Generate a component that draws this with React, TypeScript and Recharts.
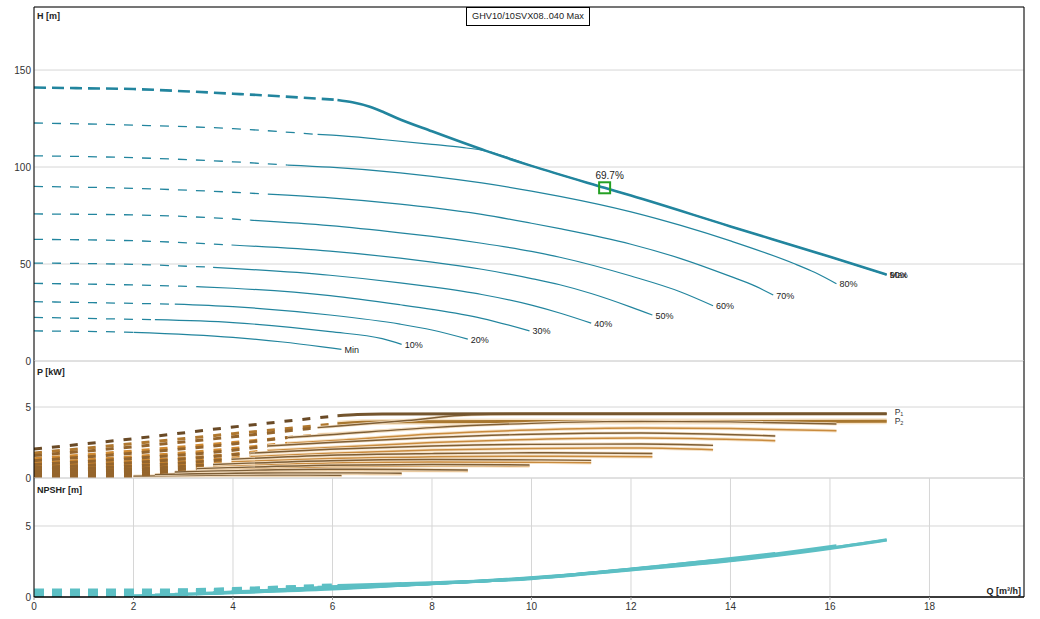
import React from 'react';
import { LineChart, Line, XAxis, YAxis, CartesianGrid, ReferenceLine, ReferenceDot } from 'recharts';

type Pt = [number, number];

const FONT = '"Liberation Sans", Arial, sans-serif';

// ---------- labels / ticks ----------
const chartTitle = 'GHV10/10SVX08..040 Max';
const curveLabels = ['Max', '90%', '80%', '70%', '60%', '50%', '40%', '30%', '20%', '10%', 'Min'];
const xTicks = [0, 2, 4, 6, 8, 10, 12, 14, 16, 18];
const hTicks = [0, 50, 100, 150];
const pTicks = [0, 5];
const nTicks = [0, 5];
const qMax = 19.9;
const hMax = 182.5;
const pMax = 8.24;
const nMax = 8.38;

const markerQ = 11.47;
const markerH = 89.3;
const markerLabel = '69.7%';

// ---------- head H [m] ----------
const headDashed: Pt[][] = [
  [[0, 141], [1, 140.6], [2, 140.2], [3, 139.1], [4, 137.8], [5, 136.4], [6.1, 134.6]],
  [[0, 122.7], [2, 121.6], [4, 119.8], [5.7, 116.8]],
  [[0, 105.8], [2, 104.8], [4, 102.7], [5.1, 101.0]],
  [[0, 90.0], [2, 89.0], [4, 87.0], [4.7, 86.0]],
  [[0, 75.8], [2, 75.3], [4, 73.2], [4.35, 72.6]],
  [[0, 62.7], [2, 62.0], [3.97, 59.8]],
  [[0, 50.5], [2, 49.8], [3.6, 48.3]],
  [[0, 40.0], [2, 39.2], [3.27, 38.3]],
  [[0, 30.6], [2, 29.7], [2.83, 29.3]],
  [[0, 22.5], [2, 21.5], [2.43, 21.3]],
  [[0, 15.5], [1, 15.3], [2.0, 14.8]],
];

const headSolid: Pt[][] = [
  [[6.1, 134.6], [6.4, 133.4], [6.75, 131.1], [7.0, 128.6], [7.29, 125.3], [8, 118.4], [9.1, 108.2], [10, 100.6], [11.47, 89.3], [12, 85.3], [14, 69.4], [16, 53.7], [17.14, 44.5]],
  [[5.7, 116.8], [6, 116.4], [7, 114.2], [8, 111.7], [8.6, 110.1], [9.1, 108.2], [10, 100.6], [11.47, 89.3], [12, 85.3], [14, 69.4], [16, 53.7], [17.14, 44.5]],
  [[5.1, 101.0], [5.95, 99.9], [7.36, 97.0], [8, 95.2], [9, 91.8], [10, 87.6], [10.57, 84.9], [12, 76.9], [13, 69.9], [14, 61.9], [15.26, 50.4], [15.7, 45.6], [16.13, 39.8]],
  [[4.7, 86.0], [5.95, 84.1], [7.36, 80.9], [8, 79.1], [9, 75.6], [10, 71.0], [10.57, 68.2], [12, 60.2], [13, 52.8], [14, 43.6], [14.5, 38.6], [14.86, 34.0]],
  [[4.35, 72.6], [5.95, 69.8], [7.36, 66.1], [8, 64.2], [9, 60.7], [10, 56.5], [10.57, 53.5], [12, 43.8], [13, 35.6], [13.65, 28.5]],
  [[3.97, 59.8], [5.95, 56.6], [7.36, 53.0], [8, 51.0], [9, 47.3], [10, 42.5], [10.57, 39.3], [11.2, 34.8], [12, 27.8], [12.43, 23.7]],
  [[3.6, 48.3], [5.95, 44.2], [7.36, 40.3], [8, 38.2], [9, 34.3], [10, 28.8], [10.6, 24.5], [11.2, 19.5]],
  [[3.27, 38.3], [4, 37.5], [5.95, 33.7], [7.36, 29.0], [8, 26.6], [9, 22.0], [9.96, 15.5]],
  [[2.83, 29.3], [4, 28.0], [5.95, 23.7], [7.36, 19.0], [8, 16.0], [8.72, 11.3]],
  [[2.43, 21.3], [4, 19.8], [5.95, 15.1], [7, 11.5], [7.39, 8.6]],
  [[2.0, 14.8], [4, 12.2], [5, 9.8], [6, 6.6], [6.18, 6.0]],
];

// ---------- power P1 / P2 [kW] ----------
const p1Dashed: Pt[][] = [
  [[0, 2.04], [2, 2.77], [4, 3.59], [6.1, 4.39]],
  [[0, 1.58], [2, 2.2], [4, 2.9], [5.7, 3.55]],
  [[0, 1.22], [2, 1.75], [4, 2.4], [5.1, 2.85]],
  [[0, 0.95], [2, 1.38], [4, 1.95], [4.7, 2.25]],
  [[0, 0.74], [2, 1.08], [4.35, 1.75]],
  [[0, 0.56], [2, 0.84], [3.97, 1.32]],
  [[0, 0.42], [2, 0.63], [3.6, 0.95]],
  [[0, 0.30], [2, 0.46], [3.27, 0.66]],
  [[0, 0.20], [1.5, 0.30], [2.83, 0.42]],
  [[0, 0.12], [1.2, 0.18], [2.43, 0.24]],
  [[0, 0.07], [1, 0.10], [2.0, 0.13]],
];
const p1Solid: Pt[][] = [
  [[6.1, 4.39], [6.5, 4.47], [7, 4.5], [10, 4.52], [17.14, 4.53]],
  [[5.7, 3.55], [6, 3.63], [7.5, 4.05], [8.8, 4.45], [10, 4.52], [17.14, 4.53]],
  [[5.1, 2.85], [5.95, 3.05], [8, 3.55], [10, 3.85], [12.2, 3.99], [14, 3.95], [16.13, 3.80]],
  [[4.7, 2.25], [5.95, 2.50], [8, 2.85], [10, 3.08], [12.2, 3.17], [14.9, 2.96]],
  [[4.35, 1.75], [5.95, 2.02], [8, 2.25], [10, 2.37], [12.2, 2.39], [13.65, 2.30]],
  [[3.97, 1.32], [5.95, 1.60], [8, 1.72], [10, 1.78], [12.43, 1.73]],
  [[3.6, 0.95], [5.95, 1.22], [8, 1.30], [10, 1.28], [11.2, 1.24]],
  [[3.27, 0.66], [5.95, 0.90], [8, 0.95], [9.96, 0.92]],
  [[2.83, 0.42], [5.95, 0.62], [7.5, 0.60], [8.72, 0.56]],
  [[2.43, 0.24], [5, 0.36], [6.5, 0.36], [7.39, 0.33]],
  [[2.0, 0.13], [4, 0.20], [5.5, 0.21], [6.18, 0.19]],
];
const p2Dashed: Pt[][] = [
  [[0, 1.76], [2, 2.42], [4, 3.12], [6.1, 3.82]],
  [[0, 1.36], [2, 1.9], [4, 2.5], [5.7, 3.04]],
  [[0, 1.05], [2, 1.5], [4, 2.07], [5.1, 2.45]],
  [[0, 0.82], [2, 1.19], [4, 1.68], [4.7, 1.94]],
  [[0, 0.64], [2, 0.93], [4.35, 1.51]],
  [[0, 0.48], [2, 0.72], [3.97, 1.14]],
  [[0, 0.36], [2, 0.54], [3.6, 0.82]],
  [[0, 0.26], [2, 0.40], [3.27, 0.58]],
  [[0, 0.17], [1.5, 0.26], [2.83, 0.37]],
  [[0, 0.10], [1.2, 0.15], [2.43, 0.21]],
  [[0, 0.06], [1, 0.085], [2.0, 0.11]],
];
const p2Solid: Pt[][] = [
  [[6.1, 3.82], [6.6, 3.92], [7.5, 3.96], [10, 3.98], [17.14, 3.99]],
  [[5.7, 3.04], [6, 3.10], [8, 3.55], [9.5, 3.9], [10.5, 3.98], [17.14, 3.99]],
  [[5.1, 2.45], [5.95, 2.62], [8, 3.1], [10, 3.38], [12.2, 3.52], [14, 3.48], [16.13, 3.33]],
  [[4.7, 1.94], [5.95, 2.15], [8, 2.5], [10, 2.72], [12.2, 2.82], [14.9, 2.63]],
  [[4.35, 1.51], [5.95, 1.74], [8, 1.97], [10, 2.08], [12.2, 2.11], [13.65, 1.99]],
  [[3.97, 1.14], [5.95, 1.38], [8, 1.49], [10, 1.54], [12.43, 1.50]],
  [[3.6, 0.82], [5.95, 1.05], [8, 1.12], [10, 1.11], [11.2, 1.08]],
  [[3.27, 0.58], [5.95, 0.80], [8, 0.86], [9.96, 0.85]],
  [[2.83, 0.37], [5.95, 0.55], [7.5, 0.53], [8.72, 0.50]],
  [[2.43, 0.21], [5, 0.31], [6.5, 0.31], [7.39, 0.29]],
  [[2.0, 0.11], [4, 0.17], [5.5, 0.18], [6.18, 0.16]],
];

// ---------- NPSHr [m] ----------
const npshDashed: Pt[][] = [
  [[0, 0.42], [2, 0.42], [3, 0.44], [4, 0.52], [5, 0.64], [6.1, 0.80]],
  [[0, 0.38], [2, 0.38], [4, 0.48], [5.7, 0.70]],
  [[0, 0.35], [2, 0.35], [4, 0.45], [5.1, 0.58]],
  [[0, 0.32], [2, 0.32], [4, 0.42], [4.7, 0.50]],
  [[0, 0.28], [2, 0.29], [4.35, 0.44]],
  [[0, 0.25], [2, 0.26], [3.97, 0.38]],
  [[0, 0.22], [2, 0.23], [3.6, 0.32]],
  [[0, 0.19], [2, 0.20], [3.27, 0.26]],
  [[0, 0.16], [2, 0.17], [2.83, 0.20]],
  [[0, 0.13], [2.43, 0.15]],
  [[0, 0.10], [2.0, 0.11]],
];
const npshSolid: Pt[][] = [
  [[6.1, 0.80], [8, 1.0], [10, 1.30], [12, 1.91], [14, 2.56], [16, 3.42], [17.14, 4.02]],
  [[5.7, 0.70], [8, 0.98], [10, 1.31], [12, 1.93], [14, 2.58], [16, 3.45], [17.14, 4.02]],
  [[5.1, 0.58], [8, 0.96], [10, 1.31], [12, 1.95], [14, 2.65], [16.13, 3.62]],
  [[4.7, 0.50], [8, 0.94], [10, 1.32], [12, 1.97], [14.9, 3.08]],
  [[4.35, 0.44], [8, 0.93], [10, 1.33], [12, 1.99], [13.65, 2.58]],
  [[3.97, 0.38], [6, 0.62], [8, 0.93], [10, 1.35], [12.43, 2.11]],
  [[3.6, 0.32], [6, 0.61], [8, 0.93], [11.2, 1.69]],
  [[3.27, 0.26], [6, 0.58], [8, 0.92], [9.96, 1.30]],
  [[2.83, 0.20], [6, 0.55], [8.72, 1.10]],
  [[2.43, 0.15], [5, 0.42], [7.39, 0.95]],
  [[2.0, 0.10], [4, 0.30], [6.18, 0.75]],
];

const toData = (pts: Pt[]) => pts.map(([q, v]) => ({ q, v }));
const last = (pts: Pt[]) => pts[pts.length - 1];

const HEAD = '#22859e';
const NPSH = '#5cbfc4';
const tickStyle = { fontSize: 10, fill: '#333', fontFamily: FONT };

type Sty = { stroke: string; strokeWidth: number; dash?: string; halo?: string; haloWidth?: number };

function mkLine(key: string, pts: Pt[], s: { stroke: string; strokeWidth: number; dash?: string }) {
  return (
    <Line
      key={key}
      data={toData(pts)}
      dataKey="v"
      type="monotone"
      dot={false}
      activeDot={false}
      isAnimationActive={false}
      stroke={s.stroke}
      strokeWidth={s.strokeWidth}
      strokeDasharray={s.dash}
    />
  );
}

function series(
  dashed: Pt[][],
  solid: Pt[][],
  key: string,
  dashStyle: (i: number) => Sty,
  solidStyle: (i: number) => Sty
) {
  const out: React.ReactNode[] = [];
  for (let i = dashed.length - 1; i >= 0; i--) {
    const d = dashStyle(i);
    const s = solidStyle(i);
    out.push(mkLine(`${key}-d-${i}`, dashed[i], d));
    if (s.halo) out.push(mkLine(`${key}-h-${i}`, solid[i], { stroke: s.halo, strokeWidth: s.haloWidth || 4 }));
    out.push(mkLine(`${key}-s-${i}`, solid[i], s));
  }
  return out;
}

const xAxisHidden = (
  <XAxis
    type="number"
    dataKey="q"
    domain={[0, qMax]}
    ticks={xTicks}
    allowDataOverflow
    height={0}
    tick={false}
    tickLine={false}
    axisLine={{ stroke: '#000', strokeWidth: 3 }}
  />
);

const yAxis = (max: number, ticks: number[]) => (
  <YAxis
    type="number"
    domain={[0, max]}
    ticks={ticks}
    allowDataOverflow
    width={34}
    tickSize={0}
    tickMargin={3}
    tickLine={false}
    tick={tickStyle}
    axisLine={{ stroke: '#000', strokeWidth: 1 }}
  />
);

export default function App() {
  const endLabel = (text: string) => (p: any) => (
    <text x={p.cx + 3} y={p.cy + 3.5} fontSize={9} fill="#222" fontFamily={FONT}>
      {text}
    </text>
  );
  const pLabel = (sub: string, dy: number) => (p: any) => (
    <text x={p.cx + 8} y={p.cy + dy} fontSize={8.5} fill="#333" fontFamily={FONT}>
      P
      <tspan fontSize={5.5} dy={1.5}>
        {sub}
      </tspan>
    </text>
  );

  return (
    <div style={{ position: 'absolute', left: 0, top: 0, width: 1040, height: 619, background: '#fff', fontFamily: FONT }}>
      {/* Head panel */}
      <div style={{ position: 'absolute', left: 0, top: 0 }}>
        <LineChart width={1040} height={370} margin={{ top: 7, right: 16, bottom: 9, left: 0 }}>
          <CartesianGrid stroke="#d6d6d6" />
          {xAxisHidden}
          {yAxis(hMax, hTicks)}
          <ReferenceLine y={hMax} stroke="#000" strokeWidth={1} />
          <ReferenceLine x={qMax} stroke="#000" strokeWidth={1} />
          {series(
            headDashed,
            headSolid,
            'h',
            (i) => (i === 0 ? { stroke: HEAD, strokeWidth: 2.6, dash: '12 6' } : { stroke: HEAD, strokeWidth: 1.3, dash: '9 9' }),
            (i) => (i === 0 ? { stroke: HEAD, strokeWidth: 2.6 } : { stroke: HEAD, strokeWidth: 1.2 })
          )}
          {headSolid.map((pts, i) => (
            <ReferenceDot
              key={`lbl-${i}`}
              x={last(pts)[0]}
              y={last(pts)[1]}
              r={0}
              shape={endLabel(curveLabels[i])}
            />
          ))}
          <ReferenceDot
            x={markerQ}
            y={markerH}
            r={6}
            shape={(p: any) => (
              <g>
                <rect x={p.cx - 5.5} y={p.cy - 5.5} width={11} height={11} fill="none" stroke="#24a024" strokeWidth={2} />
                <text x={p.cx + 5} y={p.cy - 9} textAnchor="middle" fontSize={10} fill="#222" fontFamily={FONT}>
                  {markerLabel}
                </text>
              </g>
            )}
          />
        </LineChart>
      </div>

      {/* Power panel */}
      <div style={{ position: 'absolute', left: 0, top: 352 }}>
        <LineChart width={1040} height={136} margin={{ top: 9, right: 16, bottom: 10, left: 0 }}>
          <CartesianGrid stroke="#d6d6d6" />
          {xAxisHidden}
          {yAxis(pMax, pTicks)}
          <ReferenceLine x={qMax} stroke="#000" strokeWidth={1} />
          {series(
            p2Dashed,
            p2Solid,
            'p2',
            (i) => ({ stroke: i === 0 ? '#b0782f' : '#d08a32', strokeWidth: 3, dash: '8 10' }),
            (i) =>
              i === 0
                ? { stroke: '#a8772f', strokeWidth: 3, halo: '#f8e4c8', haloWidth: 6 }
                : { stroke: '#c98b3e', strokeWidth: 1.5, halo: '#f6e2c6', haloWidth: 3.5 }
          )}
          {series(
            p1Dashed,
            p1Solid,
            'p1',
            (i) => ({ stroke: i === 0 ? '#6a4a26' : '#95652c', strokeWidth: 3, dash: '8 10' }),
            (i) =>
              i === 0
                ? { stroke: '#74552e', strokeWidth: 3 }
                : { stroke: '#7d5e36', strokeWidth: 1.4, halo: '#f3ddc0', haloWidth: 3 }
          )}
          <ReferenceDot x={last(p1Solid[0])[0]} y={last(p1Solid[0])[1]} r={0} shape={pLabel('1', 1)} />
          <ReferenceDot x={last(p2Solid[0])[0]} y={last(p2Solid[0])[1]} r={0} shape={pLabel('2', 2.5)} />
        </LineChart>
      </div>

      {/* NPSH panel */}
      <div style={{ position: 'absolute', left: 0, top: 469 }}>
        <LineChart width={1040} height={150} margin={{ top: 9, right: 16, bottom: 0, left: 0 }}>
          <CartesianGrid stroke="#d6d6d6" />
          <XAxis
            type="number"
            dataKey="q"
            domain={[0, qMax]}
            ticks={xTicks}
            allowDataOverflow
            height={22}
            tickSize={3}
            tickMargin={3}
            tick={tickStyle}
            tickLine={{ stroke: '#999' }}
            axisLine={{ stroke: '#000', strokeWidth: 1.5 }}
          />
          {yAxis(nMax, nTicks)}
          <ReferenceLine x={qMax} stroke="#000" strokeWidth={1} />
          {series(
            npshDashed,
            npshSolid,
            'n',
            () => ({ stroke: NPSH, strokeWidth: 5, dash: '10 8' }),
            (i) => ({ stroke: NPSH, strokeWidth: i === 0 ? 3.2 : 2.6 })
          )}
        </LineChart>
      </div>

      {/* axis titles */}
      <svg width={1040} height={619} style={{ position: 'absolute', left: 0, top: 0, pointerEvents: 'none' }}>
        <g fontFamily={FONT} fontSize={9} fontWeight="bold" fill="#222">
          <text x={37} y={19}>H [m]</text>
          <text x={37} y={375}>P [kW]</text>
          <text x={37} y={493}>NPSHr [m]</text>
          <text x={1021} y={594} textAnchor="end">Q [m³/h]</text>
        </g>
      </svg>

      {/* title box */}
      <div
        style={{
          position: 'absolute',
          left: 466,
          top: 7,
          width: 124,
          height: 19,
          border: '1px solid #000',
          background: '#fff',
          boxSizing: 'border-box',
          fontSize: 9.2,
          lineHeight: '17px',
          textAlign: 'center',
          color: '#222',
          fontFamily: FONT,
        }}
      >
        {chartTitle}
      </div>
    </div>
  );
}
